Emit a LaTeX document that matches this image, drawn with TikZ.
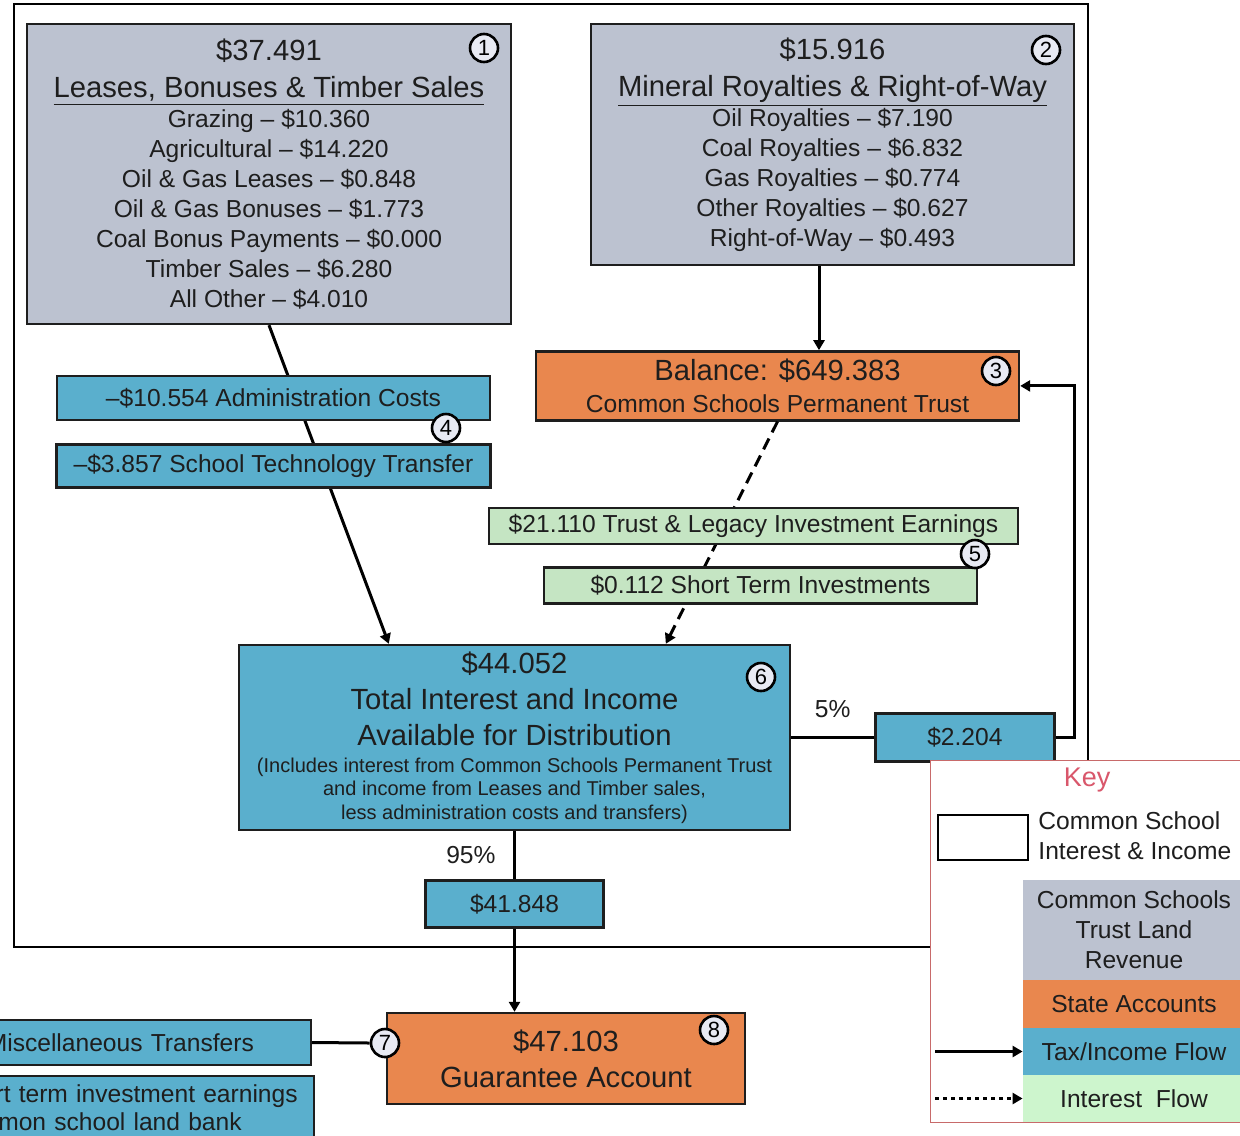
\documentclass[tikz,border=0pt]{standalone}
\usepackage{fontspec}
\setmainfont{Liberation Sans}
\usetikzlibrary{arrows.meta,positioning}
\definecolor{landgray}{HTML}{BCC2D0}
\definecolor{stateorange}{HTML}{E9874E}
\definecolor{flowblue}{HTML}{5AAFCD}
\definecolor{interestgreen}{HTML}{C5E5C3}
\definecolor{keygreen}{HTML}{CDF5CD}
\definecolor{keyred}{HTML}{C86A6A}
\definecolor{keytitle}{HTML}{D9576B}
\definecolor{numfill}{HTML}{E8EAF3}
\definecolor{ink}{HTML}{1E1E1E}
\newcommand\titlefont{\fontsize{14.6}{18}\selectfont}
\newcommand\notefont{\fontsize{10}{11.75}\selectfont}
\tikzset{
    panel/.style={draw=ink,line width=1.2pt,text=ink,align=center,inner sep=0pt,
        font=\fontsize{12.3}{15}\selectfont},
    landbox/.style={panel,fill=landgray},
    statebox/.style={panel,fill=stateorange},
    flowbox/.style={panel,fill=flowblue},
    interestbox/.style={panel,fill=interestgreen},
    num/.style={circle,draw=black,line width=1.3pt,fill=numfill,inner sep=0pt,
        minimum size=14pt,font=\fontsize{11}{11}\selectfont},
    pct/.style={text=ink,font=\fontsize{12.3}{15}\selectfont},
    link/.style={draw=black,line width=1.5pt},
    flow/.style={link,-{Triangle[length=5pt,width=5.5pt]}},
    interest/.style={flow,dash pattern=on 6pt off 3.5pt},
    keydots/.style={flow,dash pattern=on 2pt off 2pt},
    keytext/.style={text=ink,align=center,inner sep=0pt,font=\fontsize{12.3}{15}\selectfont}
}

\begin{document}
\begin{tikzpicture}[x=0.5pt,y=-0.5pt]
\useasboundingbox (0,0) rectangle (1240,1135);

% common school interest & income
\draw[line width=1pt] (14,4) rectangle (1088,947);

\node[landbox, minimum width=242pt, minimum height=150pt] (lease) at (269,174)
    {{\titlefont \$37.491}\\[3.5pt]
     {\titlefont \underline{Leases, Bonuses \& Timber Sales}}\\
     Grazing -- \$10.360\\
     Agricultural -- \$14.220\\
     Oil \& Gas Leases -- \$0.848\\
     Oil \& Gas Bonuses -- \$1.773\\
     Coal Bonus Payments -- \$0.000\\
     Timber Sales -- \$6.280\\
     All Other -- \$4.010};
\node[landbox, minimum width=241.5pt, minimum height=120.5pt] (mineral) at (832.5,144.5)
    {{\titlefont \$15.916}\\[3.5pt]
     {\titlefont \underline{Mineral Royalties \& Right-of-Way}}\\
     Oil Royalties -- \$7.190\\
     Coal Royalties -- \$6.832\\
     Gas Royalties -- \$0.774\\
     Other Royalties -- \$0.627\\
     Right-of-Way -- \$0.493};
\node[statebox, minimum width=241.5pt, minimum height=34.5pt] (trust) [below=42pt of mineral, xshift=-27.5pt]
    {{\titlefont Balance: \$649.383}\\[0.7pt]
     Common Schools Permanent Trust};
\node[flowbox, minimum width=275.5pt, minimum height=92.5pt] (total) at (514.5,737.5)
    {{\titlefont \$44.052}\\[3pt]
     {\titlefont Total Interest and Income}\\[3pt]
     {\titlefont Available for Distribution}\\[-1.65pt]
     {\notefont (Includes interest from Common Schools Permanent Trust}\\[-3.25pt]
     {\notefont and income from Leases and Timber sales,}\\[-3.25pt]
     {\notefont less administration costs and transfers)}};

\draw[flow] ([xshift=-6.75pt]mineral.south) -- ([xshift=-6.75pt]mineral.south |- trust.north);
\draw[flow] (lease.south) -- ([xshift=75.5pt]total.north west);
\draw[interest] (trust.south) -- ([xshift=214pt]total.north west);

% deductions and earnings, drawn over the flows
\node[flowbox, minimum width=216.5pt, minimum height=22pt] (admin) at (273.5,398)
    {--\$10.554 Administration Costs};
\node[flowbox, minimum width=217pt, minimum height=21.5pt] (tech) [below=11pt of admin]
    {--\$3.857 School Technology Transfer};
\node[interestbox, minimum width=264.5pt, minimum height=18pt] (legacy) at (753.5,526)
    {\$21.110 Trust \& Legacy Investment Earnings};
\node[interestbox, minimum width=216.5pt, minimum height=18pt] (short) [below=10.5pt of legacy, xshift=3.5pt]
    {\$0.112 Short Term Investments};

% split of the total
\node[flowbox, minimum width=89.5pt, minimum height=24pt] (five) [right=41.5pt of total] {\$2.204}
    edge[link] node[pct, above=5.8pt] {5\%} (total);
\node[flowbox, minimum width=89pt, minimum height=23.5pt] (rest) [below=24pt of total] {\$41.848}
    edge[link] node[pct, left=5.4pt] {95\%} (total);
\draw[flow] (five.east) -| ([xshift=27pt]trust.east) -- (trust.east);

% guarantee account
\node[statebox, minimum width=179pt, minimum height=45.5pt] (guarantee) at (566,1058.5)
    {{\titlefont \$47.103}\\[3pt]
     {\titlefont Guarantee Account}};
\draw[flow] (rest.south) -- (rest.south |- guarantee.north);
\node[flowbox, anchor=east, text width=159pt, align=left, inner sep=3pt, minimum height=22.5pt] (misc) at (312,1042.5)
    {Miscellaneous Transfers};
\node[flowbox, anchor=north east, text width=178pt, align=left, inner sep=3pt, minimum height=31pt] (landbank) at (315,1075)
    {Short term investment earnings\\[-1pt]
     common school land bank};

% circled numbers
\node[num] (n1) at (484,48) {1};
\node[num] (n2) at (1046,50) {2};
\node[num] (n3) at (996,371) {3};
\node[num] (n4) at (446,428) {4};
\node[num] (n5) at (975,554) {5};
\node[num] (n6) at (761,677) {6};
\node[num] (n7) at (385,1043) {7};
\node[num] (n8) at (714,1030) {8};
\draw[link] (misc.east) -- (n7.west);

% key
\node[draw=keyred, line width=0.7pt, fill=white, anchor=north west, inner sep=0pt,
      minimum width=165pt, minimum height=181pt] (key) at (930,760) {};
\node[text=keytitle, font=\fontsize{13.5}{15}\selectfont] (key title) at (1087,780) {Key};
\node[draw=black, line width=1.2pt, fill=white, inner sep=0pt,
      minimum width=45pt, minimum height=22.5pt] (key frame) at (983,837.5) {};
\node[keytext, anchor=west, align=left] (key frame text) at (1038,836)
    {Common School\\Interest \& Income};
\node[keytext, fill=landgray, minimum width=111pt, minimum height=50pt] (key land) at (1134,930)
    {Common Schools\\Trust Land\\Revenue};
\node[keytext, fill=stateorange, minimum width=111pt, minimum height=24pt] (key state) at (1134,1004)
    {State Accounts};
\node[keytext, fill=flowblue, minimum width=111pt, minimum height=23.5pt] (key flow) at (1134,1051.5)
    {Tax/Income Flow};
\node[keytext, fill=keygreen, minimum width=111pt, minimum height=23.5pt] (key interest) at (1134,1098.5)
    {Interest\ \ Flow};
\coordinate (key flow start) at (935,1051.5);
\coordinate (key interest start) at (935,1098.5);
\draw[flow] (key flow start) -- (key flow.west);
\draw[keydots] (key interest start) -- (key interest.west);

\end{tikzpicture}
\end{document}
